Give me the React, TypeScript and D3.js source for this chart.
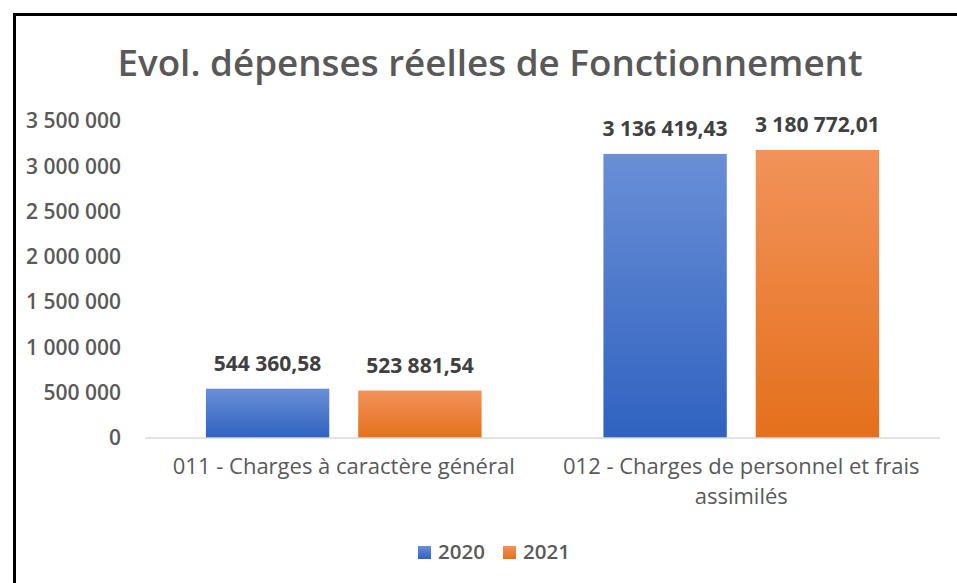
import { useEffect, useRef } from "react";
import * as d3 from "d3";

const categories = [
  ["011 - Charges à caractère général"],
  ["012 - Charges de personnel et frais", "assimilés"],
];
const seriesNames = ["2020", "2021"];
const values2020 = [544360.58, 3136419.43];
const values2021 = [523881.54, 3180772.01];
const yTicks = [0, 500000, 1000000, 1500000, 2000000, 2500000, 3000000, 3500000];

const W = 957;
const H = 583;

const fmtInt = (v: number) => d3.format(",.0f")(v).replace(/,/g, " ");
const fmtDec = (v: number) => d3.format(",.2f")(v).replace(/,/g, " ").replace(".", ",");

export default function App() {
  const svgRef = useRef<SVGSVGElement>(null);

  useEffect(() => {
    if (!svgRef.current) return;
    const svg = d3.select(svgRef.current);
    svg.selectAll("*").remove();

    const margin = { top: 121, right: 17, bottom: 145, left: 145 };
    const font = "'Open Sans', sans-serif";

    const defs = svg.append("defs");
    const grads = [
      { id: "g2020", top: "#6a8fd6", bottom: "#2f62c0" },
      { id: "g2021", top: "#f2935a", bottom: "#e4701c" },
    ];
    grads.forEach((g) => {
      const lg = defs
        .append("linearGradient")
        .attr("id", g.id)
        .attr("x1", 0)
        .attr("y1", 0)
        .attr("x2", 0)
        .attr("y2", 1);
      lg.append("stop").attr("offset", "0%").attr("stop-color", g.top);
      lg.append("stop").attr("offset", "100%").attr("stop-color", g.bottom);
    });

    svg.append("rect").attr("width", W).attr("height", H).attr("fill", "#fff");
    // chart frame
    svg
      .append("rect")
      .attr("x", 14.5)
      .attr("y", 14.5)
      .attr("width", W + 20)
      .attr("height", H + 20)
      .attr("fill", "none")
      .attr("stroke", "#000")
      .attr("stroke-width", 3);

    svg
      .append("text")
      .attr("x", 490)
      .attr("y", 76)
      .attr("text-anchor", "middle")
      .attr("font-family", font)
      .attr("font-weight", 600)
      .attr("font-size", 36.8)
      .attr("fill", "#595959")
      .text("Evol. dépenses réelles de Fonctionnement");

    const x0 = d3
      .scaleBand<number>()
      .domain(d3.range(categories.length))
      .range([margin.left, W - margin.right]);

    const x1 = d3
      .scaleBand<string>()
      .domain(seriesNames)
      .range([0, x0.bandwidth()])
      .paddingInner(0.19)
      .paddingOuter(0.4);

    const y = d3
      .scaleLinear()
      .domain([0, 3500000])
      .range([H - margin.bottom, margin.top]);

    // y tick labels
    svg
      .append("g")
      .selectAll("text")
      .data(yTicks)
      .join("text")
      .attr("x", 121)
      .attr("y", (d) => y(d))
      .attr("dy", "0.35em")
      .attr("text-anchor", "end")
      .attr("font-family", font)
      .attr("font-weight", 600)
      .attr("font-size", 21)
      .attr("fill", "#595959")
      .text((d) => fmtInt(d));

    const series = [values2020, values2021];
    const groups = svg
      .append("g")
      .selectAll("g")
      .data(categories.map((_, i) => i))
      .join("g")
      .attr("transform", (i) => `translate(${x0(i)},0)`);

    seriesNames.forEach((name, s) => {
      groups
        .append("rect")
        .attr("x", x1(name)!)
        .attr("width", x1.bandwidth())
        .attr("y", (i) => y(series[s][i]))
        .attr("height", (i) => y(0) - y(series[s][i]))
        .attr("fill", `url(#g${name})`);

      groups
        .append("text")
        .attr("x", x1(name)! + x1.bandwidth() / 2)
        .attr("y", (i) => y(series[s][i]) - 18)
        .attr("text-anchor", "middle")
        .attr("font-family", font)
        .attr("font-weight", 700)
        .attr("font-size", 21)
        .attr("fill", "#404040")
        .text((i) => fmtDec(series[s][i]));
    });

    // baseline
    svg
      .append("line")
      .attr("x1", margin.left)
      .attr("x2", W - margin.right)
      .attr("y1", y(0))
      .attr("y2", y(0))
      .attr("stroke", "#d9d9d9")
      .attr("stroke-width", 1.5);

    // category labels
    groups.each(function (i) {
      const t = d3
        .select(this)
        .append("text")
        .attr("text-anchor", "middle")
        .attr("font-family", font)
        .attr("font-size", 22)
        .attr("fill", "#595959");
      categories[i].forEach((line, k) => {
        t.append("tspan")
          .attr("x", x0.bandwidth() / 2)
          .attr("y", y(0) + 36 + k * 30)
          .text(line);
      });
    });

    // legend
    const legend = svg.append("g").attr("transform", "translate(418,552)");
    const lx = [0, 85];
    seriesNames.forEach((name, s) => {
      const g = legend.append("g").attr("transform", `translate(${lx[s]},0)`);
      g.append("rect")
        .attr("x", 0)
        .attr("y", -6)
        .attr("width", 13)
        .attr("height", 13)
        .attr("fill", `url(#g${name})`);
      g.append("text")
        .attr("x", 20)
        .attr("y", 0)
        .attr("dy", "0.35em")
        .attr("font-family", font)
        .attr("font-weight", 600)
        .attr("font-size", 20.5)
        .attr("fill", "#595959")
        .text(name);
    });
  }, []);

  return (
    <svg
      ref={svgRef}
      width={W}
      height={H}
      style={{ position: "absolute", left: 0, top: 0 }}
    />
  );
}
